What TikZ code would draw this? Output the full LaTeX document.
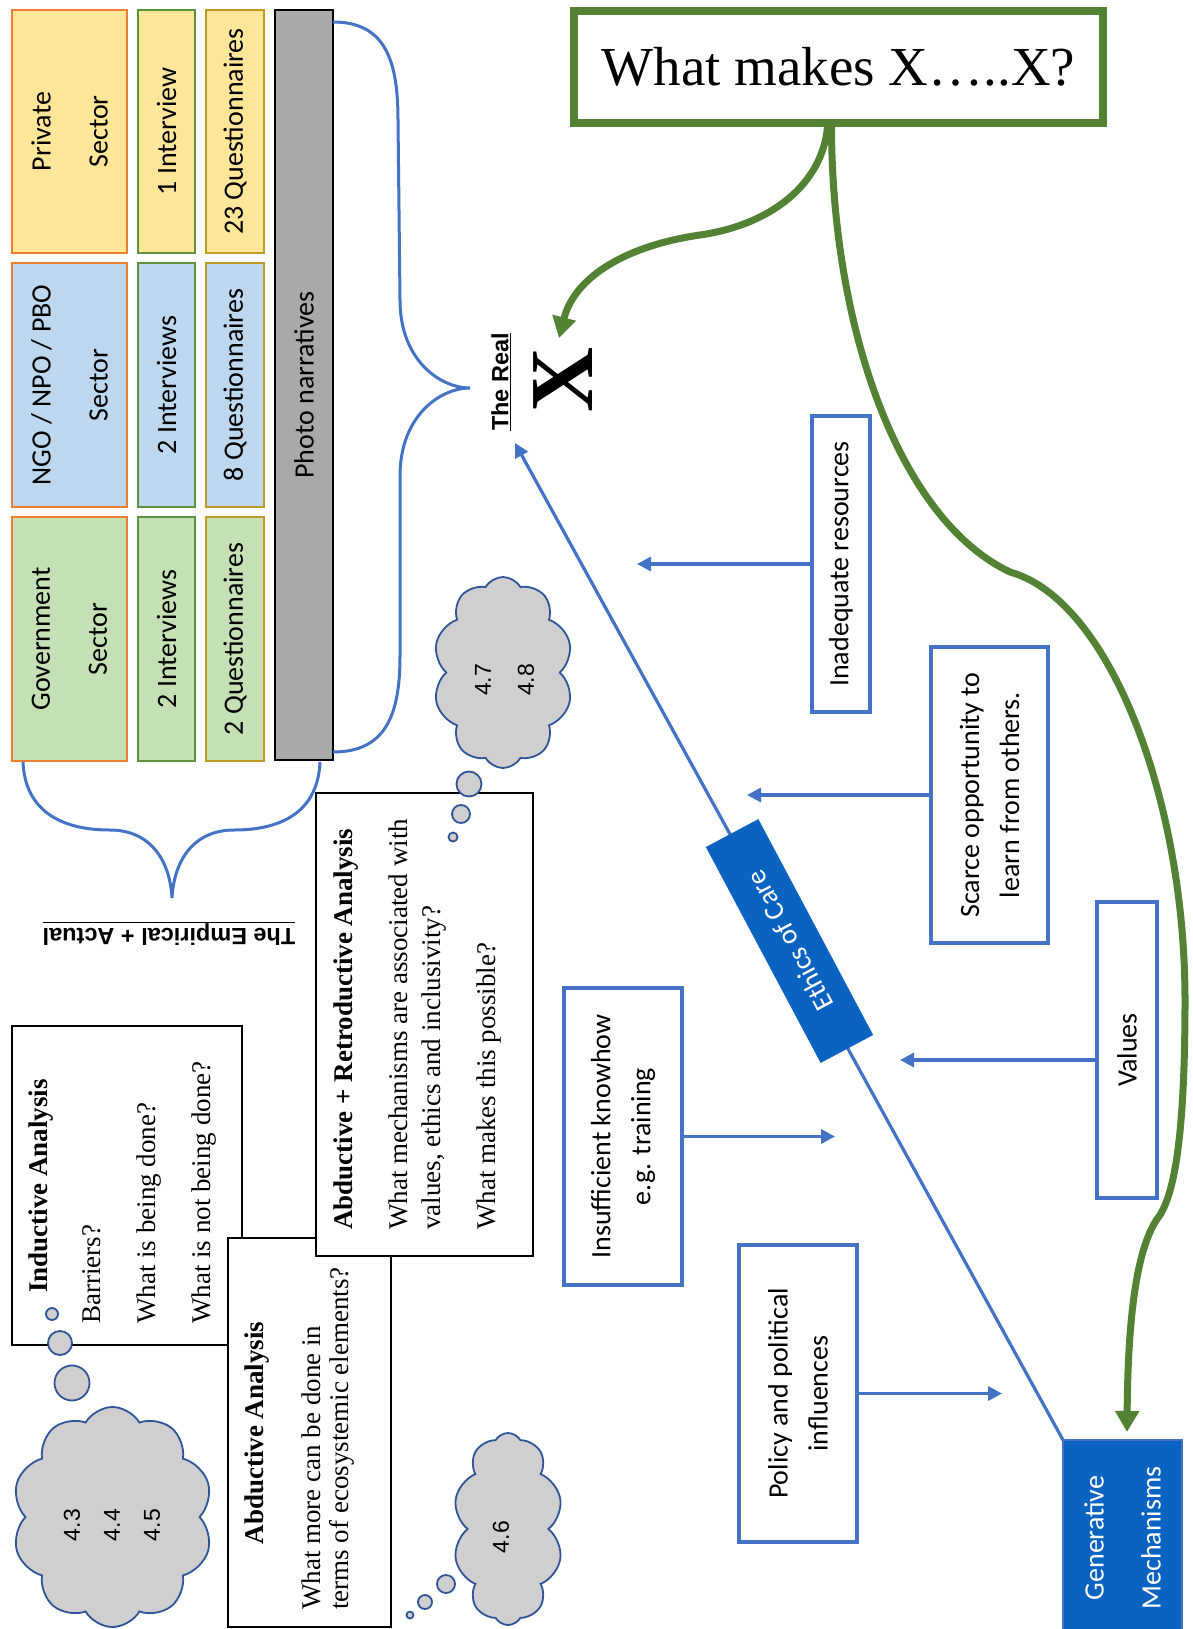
\documentclass[tikz,border=0pt]{standalone}
\usepackage{fontspec}
\setmainfont{Liberation Serif}
\newfontfamily\carlitofam{Carlito}
\newfontfamily\arialfam{Liberation Sans}
\usetikzlibrary{arrows.meta,shapes.symbols,calc}

\definecolor{borange}{HTML}{ED7D31}
\definecolor{bgreen}{HTML}{5E9140}
\definecolor{bgold}{HTML}{C09A24}
\definecolor{fyellow}{HTML}{FFE699}
\definecolor{fblue}{HTML}{BDD7EE}
\definecolor{fgreen}{HTML}{C5E0B4}
\definecolor{fgray}{HTML}{A9A9A9}
\definecolor{lblue}{HTML}{4472C4}
\definecolor{dgreen}{HTML}{548235}
\definecolor{dblue}{HTML}{0B63C1}
\definecolor{cloudfill}{HTML}{D0CECE}
\definecolor{cloudline}{HTML}{2F5597}

\tikzset{
  cf/.style={font=\carlitofam\fontsize{28}{33}\selectfont},
  cfwide/.style={font=\carlitofam\fontsize{28}{57}\selectfont},
  cftight/.style={font=\carlitofam\fontsize{28}{40}\selectfont},
  cell/.style={rotate=90, inner sep=0pt, outer sep=0pt, line width=2.4pt, align=center},
  sector/.style={cell, draw=borange, cfwide},
  interv/.style={cell, draw=bgreen, cf},
  quest/.style={cell, draw=bgold, cf},
  factor/.style={cell, draw=lblue, line width=3.4pt, fill=white, cftight},
  darkbox/.style={cell, draw=lblue, fill=dblue, text=white, line width=1.5pt},
  tbox/.style={draw=black, line width=1.6pt, fill=white, inner sep=0pt},
  tline/.style={rotate=90, anchor=base west, inner sep=0pt, font=\fontsize{27}{30}\selectfont},
  thead/.style={tline, font=\bfseries\fontsize{27}{30}\selectfont},
  cloudy/.style={cloud, cloud puffs=10, cloud puff arc=120, cloud ignores aspect,
    draw=cloudline, fill=cloudfill, line width=1.8pt, inner sep=0pt},
  bubble/.style={circle, draw=cloudline, fill=cloudfill, line width=1.8pt, inner sep=0pt},
  cnum/.style={rotate=90, inner sep=0pt, align=center, font=\arialfam\fontsize{23}{40}\selectfont},
  barrow/.style={draw=lblue, line width=3.2pt, -{Triangle[length=14pt,width=14pt]}},
  garrow/.style={draw=dgreen, line width=7pt, -{Triangle[length=21pt,width=23pt]}},
  brace/.style={draw=lblue, line width=3pt},
  label/.style={inner sep=0pt, font=\arialfam\bfseries\fontsize{23.5}{26}\selectfont}
}

\begin{document}
\begin{tikzpicture}[x=1pt,y=-1pt]
\fill[white] (0,0) rectangle (1192,1629);
\useasboundingbox (0,0) rectangle (1192,1629);

% sectors, interviews and questionnaires
\node[sector, fill=fyellow, minimum width=243pt, minimum height=115pt] (priv) at (69.5,131.5) {Private\\Sector};
\node[sector, fill=fblue, minimum width=244pt, minimum height=115pt] (ngo) at (69.5,385) {NGO / NPO / PBO\\Sector};
\node[sector, fill=fgreen, minimum width=244pt, minimum height=115pt] (gov) at (69.5,639) {Government\\Sector};
\node[interv, fill=fyellow, minimum width=243pt, minimum height=57pt] (int1) at (166.5,131.5) {1 Interview};
\node[interv, fill=fblue, minimum width=244pt, minimum height=57pt] (int2) at (166.5,385) {2 Interviews};
\node[interv, fill=fgreen, minimum width=244pt, minimum height=57pt] (int3) at (166.5,639) {2 Interviews};
\node[quest, fill=fyellow, minimum width=243pt, minimum height=58pt] (q1) at (235,131.5) {23 Questionnaires};
\node[quest, fill=fblue, minimum width=244pt, minimum height=58pt] (q2) at (235,385) {8 Questionnaires};
\node[quest, fill=fgreen, minimum width=244pt, minimum height=58pt] (q3) at (235,639) {2 Questionnaires};
\node[cell, draw=black, line width=2.6pt, fill=fgray, cf, minimum width=750pt, minimum height=58pt] (photo) at (304,385) {Photo narratives};

% braces
\draw[brace] (333,22) .. controls (385,22) and (398,60) .. (398,120) -- (400,300)
  .. controls (400,360) and (440,388) .. (470,388)
  .. controls (440,388) and (400,416) .. (400,476) -- (400,656)
  .. controls (400,716) and (385,752) .. (333,752);
\draw[brace] (23,762) .. controls (25,810) and (60,830) .. (110,830)
  .. controls (150,830) and (170,860) .. (172,898)
  .. controls (174,860) and (194,830) .. (234,830)
  .. controls (284,830) and (318,810) .. (320,762);

% level labels
\node[label, rotate=180] (emp) at (169,934) {\underline{The Empirical + Actual}};
\node[label, rotate=90] (real) at (501,382) {\underline{The Real}};
\node[rotate=90, inner sep=0pt, font=\bfseries\fontsize{90}{90}\selectfont] (xbig) at (563,380) {X};

% research question
\node[draw=dgreen, line width=8pt, fill=white, minimum width=529pt, minimum height=112pt,
  inner sep=0pt, font=\fontsize{55}{60}\selectfont] (what) at (838.5,67) {What makes X…..X?};

% contributing factors
\node[factor, minimum width=296pt, minimum height=58pt] (inad) at (841,564) {Inadequate resources};
\node[factor, minimum width=296pt, minimum height=117pt] (scarce) at (989.5,795) {Scarce opportunity to\\learn from others.};
\node[factor, minimum width=296pt, minimum height=60pt] (values) at (1127,1050) {Values};
\node[factor, minimum width=297pt, minimum height=118pt] (insuf) at (623,1136.5) {Insufficient knowhow\\e.g. training};
\node[factor, minimum width=297pt, minimum height=118pt] (policy) at (798,1393.5) {Policy and political\\influences};
\node[darkbox, cfwide, minimum width=196pt, minimum height=119pt] (gm) at (1122.5,1538) {Generative\\Mechanisms};

\coordinate (treal) at (515,443);
\coordinate (tinad) at (637,0);
\coordinate (tscarce) at (747,0);
\coordinate (tvalues) at (900,0);
\coordinate (tinsuf) at (835,0);
\coordinate (tpolicy) at (1002,0);
\coordinate (vstart) at ([yshift=-10pt]values.north);

\draw[barrow] (inad.north) -- (inad.north -| tinad);
\draw[barrow] (scarce.north) -- (scarce.north -| tscarce);
\draw[barrow] (vstart) -- (vstart -| tvalues);
\draw[barrow] (insuf.south) -- (insuf.south -| tinsuf);
\draw[barrow] (policy.south) -- (policy.south -| tpolicy);
\draw[barrow] (gm.north east) -- (treal);
\node[rotate=118, fill=dblue, draw=dblue, minimum width=244pt, minimum height=59pt, inner sep=0pt,
  text=white, cf] (eoc) at (789.5,941) {Ethics of Care};

% green arrows
\coordinate (gtip1) at (559,338);
\coordinate (gtip2) at (1127,1432);
\draw[garrow] ([xshift=-11pt]what.south) .. controls (822,185) and (770,225) .. (700,235)
  .. controls (630,245) and (575,275) .. (gtip1);
\draw[garrow] ([xshift=-7pt]what.south) .. controls (832,330) and (900,520) .. (1010,572)
  .. controls (1110,600) and (1185,800) .. (1185,1000)
  .. controls (1185,1150) and (1172,1195) .. (1160,1215)
  .. controls (1140,1240) and (1128,1300) .. (gtip2);

% analysis boxes
\node[tbox, minimum width=230pt, minimum height=319pt] (ind) at (127,1185.5) {};
\node[thead] (indh) at (47,1293) {Inductive Analysis};
\node[tline] (ind1) at (100,1324) {Barriers?};
\node[tline] (ind2) at (155,1324) {What is being done?};
\node[tline] (ind3) at (210,1324) {What is not being done?};

\node[tbox, minimum width=163pt, minimum height=389pt] (abd) at (309.5,1432.5) {};
\node[thead, anchor=base] (abdh) at (263,1433) {Abductive Analysis};
\node[tline] (abd1) at (320,1610) {What more can be done in};
\node[tline] (abd2) at (348,1610) {terms of ecosystemic elements?};

\node[tbox, minimum width=217pt, minimum height=463pt] (ret) at (424.5,1024.5) {};
\node[thead] (reth) at (352,1230) {Abductive + Retroductive Analysis};
\node[tline] (ret1) at (407,1230) {What mechanisms are associated with};
\node[tline] (ret2) at (440,1230) {values, ethics and inclusivity?};
\node[tline] (ret3) at (495,1230) {What makes this possible?};

% thought clouds
\node[cloudy, minimum width=201pt, minimum height=220pt] (cl1) at (112.5,1517) {};
\node[cnum] (n1) at (112,1525) {4.3\\4.4\\4.5};
\node[bubble, minimum size=35pt] (b11) at (72,1383) {};
\node[bubble, minimum size=24pt] (b12) at (60,1343) {};
\node[bubble, minimum size=12pt] (b13) at (52,1314) {};

\node[cloudy, minimum width=140pt, minimum height=191pt] (cl2) at (503,672.5) {};
\node[cnum] (n2) at (504.5,680) {4.7\\[3pt]4.8};
\node[bubble, minimum size=25pt] (b21) at (469,784) {};
\node[bubble, minimum size=18pt] (b22) at (461,814) {};
\node[bubble, minimum size=9pt] (b23) at (453,837) {};

\node[cloudy, minimum width=110pt, minimum height=192pt] (cl3) at (508,1529) {};
\node[cnum] (n3) at (501,1537) {4.6};
\node[bubble, minimum size=18pt] (b31) at (446,1584) {};
\node[bubble, minimum size=14pt] (b32) at (425,1602) {};
\node[bubble, minimum size=7pt] (b33) at (410,1615) {};
\end{tikzpicture}
\end{document}
